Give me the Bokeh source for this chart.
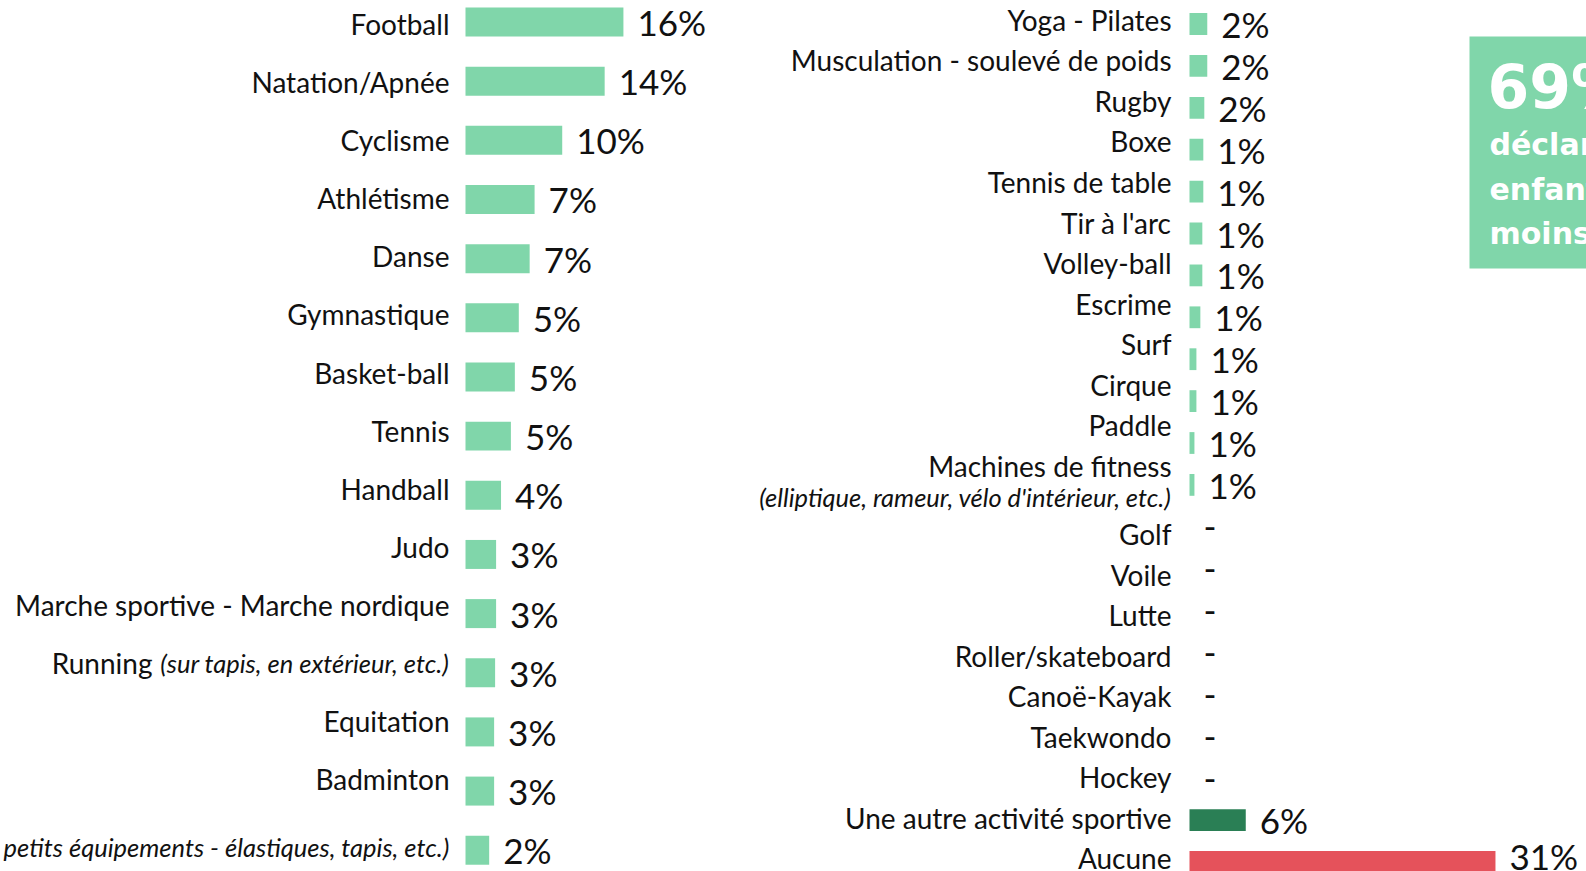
from bokeh.plotting import figure
from bokeh.models import Range1d, ColumnDataSource
from bokeh.embed import file_html
from bokeh.resources import INLINE
from bokeh.core.properties import value

# ---------------- data ----------------
left_names = ["Football", "Natation/Apnée", "Cyclisme", "Athlétisme", "Danse",
              "Gymnastique", "Basket-ball", "Tennis", "Handball", "Judo",
              "Marche sportive - Marche nordique", "Running", "Equitation",
              "Badminton", ""]
left_notes = ["", "", "", "", "", "", "", "", "", "", "",
              "(sur tapis, en extérieur, etc.)", "", "",
              "petits équipements - élastiques, tapis, etc.)"]
left_values = [16.0, 14.1, 9.8, 7.0, 6.5, 5.4, 5.0, 4.6, 3.6, 3.1, 3.1, 3.0, 2.9, 2.9, 2.4]
left_labels = ["16%", "14%", "10%", "7%", "7%", "5%", "5%", "5%", "4%", "3%",
               "3%", "3%", "3%", "3%", "2%"]

right_names = ["Yoga - Pilates", "Musculation - soulevé de poids", "Rugby", "Boxe",
               "Tennis de table", "Tir à l'arc", "Volley-ball", "Escrime", "Surf",
               "Cirque", "Paddle", "Machines de fitness", "Golf", "Voile", "Lutte",
               "Roller/skateboard", "Canoë-Kayak", "Taekwondo", "Hockey",
               "Une autre activité sportive", "Aucune"]
right_notes = ["", "", "", "", "", "", "", "", "", "", "",
               "(elliptique, rameur, vélo d'intérieur, etc.)",
               "", "", "", "", "", "", "", "", ""]
right_values = [1.8, 1.8, 1.5, 1.4, 1.4, 1.3, 1.3, 1.1, 0.7, 0.7, 0.5, 0.5,
                0, 0, 0, 0, 0, 0, 0, 5.7, 31.0]
right_labels = ["2%", "2%", "2%", "1%", "1%", "1%", "1%", "1%", "1%", "1%", "1%", "1%",
                "-", "-", "-", "-", "-", "-", "-", "6%", "31%"]
right_kind = ["sport"] * 19 + ["autre", "aucune"]

callout_lines = ["69%", "déclarent", "enfants", "moins"]

# ---------------- styles ----------------
GREEN = "#80D6AA"
DARK = "#2A7F55"
RED = "#E5525B"
TXT = "#111111"
FONT = value("Lato")
BOXFONT = value("DejaVu Sans")
kind_color = {"sport": GREEN, "autre": DARK, "aucune": RED}

W, H = 1586, 871
PX = 9.87           # pixels per percentage point
L0, R0 = 465, 1189  # zero positions of the two panels
LAB = "28px"
PCT = "35px"
ITA = "25.5px"


def inv_range(c0, step):
    return Range1d(start=(H - c0) / step, end=-c0 / step)


p = figure(width=W, height=H, output_backend="svg", toolbar_location=None,
           x_range=Range1d(-L0 / PX, (W - L0) / PX),
           y_range=inv_range(21.5, 59.16),
           min_border=0, min_border_left=0, min_border_right=0,
           min_border_top=0, min_border_bottom=0)
p.extra_x_ranges = {"xr": Range1d(-R0 / PX, (W - R0) / PX), "xpx": Range1d(0, W)}
p.extra_y_ranges = {"ll": inv_range(23.3, 58.12),
                    "rb": inv_range(23.5, 41.9),
                    "rl": inv_range(19.2, 40.56),
                    "ypx": Range1d(H, 0)}
p.xaxis.visible = False
p.yaxis.visible = False
p.grid.visible = False
p.outline_line_color = None
p.background_fill_color = "white"
p.border_fill_color = "white"

# ---------------- left panel ----------------
lidx = list(range(len(left_values)))
lsrc = ColumnDataSource(dict(y=lidx, v=left_values, lab=left_labels))
p.hbar(y="y", left=0, right="v", height=0.49, source=lsrc,
       fill_color=GREEN, line_color=None)
p.text(x="v", y="y", text="lab", source=lsrc, x_offset=14, y_offset=0,
       text_font=FONT, text_font_size=PCT, text_color=TXT,
       text_baseline="alphabetic", text_align="left")

plain_idx = [i for i in lidx if left_names[i] and not left_notes[i]]
p.text(x=[0] * len(plain_idx), y=plain_idx, text=[left_names[i] for i in plain_idx],
       y_range_name="ll", x_offset=-16, y_offset=0,
       text_font=FONT, text_font_size=LAB, text_color=TXT,
       text_align="right", text_baseline="alphabetic")
# label with an italic note on the same line
mixed_idx = [i for i in lidx if left_names[i] and left_notes[i]]
p.text(x=[0] * len(mixed_idx), y=mixed_idx, text=[left_notes[i] for i in mixed_idx],
       y_range_name="ll", x_offset=-16, y_offset=0,
       text_font=FONT, text_font_size=ITA, text_font_style="italic",
       text_color=TXT, text_align="right", text_baseline="alphabetic")
p.text(x=[0] * len(mixed_idx), y=mixed_idx, text=[left_names[i] for i in mixed_idx],
       y_range_name="ll", x_offset=-313, y_offset=0,
       text_font=FONT, text_font_size=LAB, text_color=TXT,
       text_align="right", text_baseline="alphabetic")
# italic-only label (aligned with its bar)
note_idx = [i for i in lidx if not left_names[i] and left_notes[i]]
p.text(x=[0] * len(note_idx), y=note_idx, text=[left_notes[i] for i in note_idx],
       x_offset=-16, y_offset=-3,
       text_font=FONT, text_font_size=ITA, text_font_style="italic",
       text_color=TXT, text_align="right", text_baseline="alphabetic")

# ---------------- right panel ----------------
ridx = list(range(len(right_values)))
rsrc = ColumnDataSource(dict(y=ridx, v=right_values, lab=right_labels,
                             c=[kind_color[k] for k in right_kind]))
p.hbar(y="y", left=0, right="v", height=0.52, source=rsrc,
       fill_color="c", line_color=None, x_range_name="xr", y_range_name="rb")
main_r = ridx[:-1]
p.text(x=[right_values[i] for i in main_r], y=main_r, text=[right_labels[i] for i in main_r],
       x_offset=14, y_offset=0, x_range_name="xr", y_range_name="rb",
       text_font=FONT, text_font_size=PCT, text_color=TXT,
       text_baseline="alphabetic", text_align="left")
last_r = ridx[-1:]
p.text(x=[right_values[i] for i in last_r], y=last_r, text=[right_labels[i] for i in last_r],
       x_offset=14, y_offset=-6, x_range_name="xr", y_range_name="rb",
       text_font=FONT, text_font_size=PCT, text_color=TXT,
       text_baseline="alphabetic", text_align="left")

# label slots: a partial extra line after the two-line label
slot = []
shift = 0.0
for i in ridx:
    slot.append(i + shift)
    if right_notes[i]:
        shift += 0.68
p.text(x=[0] * len(ridx), y=slot, text=right_names,
       x_range_name="xr", y_range_name="rl", x_offset=-18, y_offset=0,
       text_font=FONT, text_font_size=LAB, text_color=TXT,
       text_align="right", text_baseline="alphabetic")
nidx = [i for i in ridx if right_notes[i]]
p.text(x=[0] * len(nidx), y=[slot[i] for i in nidx], text=[right_notes[i] for i in nidx],
       x_range_name="xr", y_range_name="rl", x_offset=-18, y_offset=31,
       text_font=FONT, text_font_size=ITA, text_font_style="italic",
       text_color=TXT, text_align="right", text_baseline="alphabetic")

# ---------------- callout box ----------------
p.quad(left=1469, right=W + 20, top=36, bottom=268, fill_color=GREEN, line_color=None,
       x_range_name="xpx", y_range_name="ypx")
p.text(x=[1487], y=[86], text=callout_lines[:1], x_range_name="xpx", y_range_name="ypx",
       text_font=BOXFONT, text_font_style="bold", text_font_size="60px",
       text_color="white", text_baseline="alphabetic")
p.text(x=[1489] * 3, y=[144, 189, 233], text=callout_lines[1:],
       x_range_name="xpx", y_range_name="ypx",
       text_font=BOXFONT, text_font_style="bold", text_font_size="30px",
       text_color="white", text_baseline="alphabetic")

open("out.html", "w").write(file_html(p, INLINE))
